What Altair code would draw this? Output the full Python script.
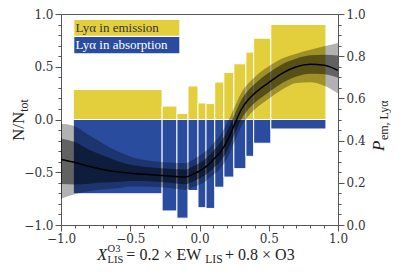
import altair as alt
import pandas as pd

# ---------------- data ----------------
bin_lo = [-0.911, -0.270, -0.163, -0.083, -0.011, 0.047, 0.110, 0.176, 0.248, 0.335, 0.391, 0.515]
bin_hi = [-0.270, -0.163, -0.083, -0.011, 0.047, 0.110, 0.176, 0.248, 0.335, 0.391, 0.515, 0.913]
frac_emission = [0.284, 0.127, 0.058, 0.318, 0.157, 0.151, 0.355, 0.447, 0.528, 0.639, 0.771, 0.901]
frac_absorption = [-0.704, -0.867, -0.935, -0.673, -0.836, -0.843, -0.642, -0.546, -0.466, -0.349, -0.225, -0.090]

curve_x = [-1.0, -0.9, -0.8, -0.7, -0.6, -0.5, -0.4, -0.3, -0.2, -0.1, -0.05, 0.0, 0.05,
           0.1, 0.15, 0.2, 0.25, 0.3, 0.35, 0.4, 0.5, 0.6, 0.7, 0.8, 0.9, 1.0]
p_mid = [0.310, 0.296, 0.278, 0.263, 0.252, 0.245, 0.240, 0.236, 0.231, 0.227, 0.240, 0.256, 0.278,
         0.310, 0.345, 0.398, 0.472, 0.545, 0.592, 0.625, 0.675, 0.720, 0.750, 0.762, 0.757, 0.733]
p_out_lo = [0.125, 0.146, 0.160, 0.168, 0.174, 0.183, 0.182, 0.180, 0.174, 0.167, 0.178, 0.191, 0.210,
            0.238, 0.267, 0.316, 0.390, 0.465, 0.514, 0.548, 0.598, 0.643, 0.673, 0.677, 0.660, 0.623]
p_in_lo = [0.194, 0.192, 0.196, 0.201, 0.204, 0.209, 0.208, 0.205, 0.199, 0.193, 0.205, 0.220, 0.240,
           0.270, 0.301, 0.351, 0.425, 0.499, 0.546, 0.579, 0.629, 0.674, 0.704, 0.717, 0.715, 0.698]
p_in_hi = [0.410, 0.393, 0.358, 0.330, 0.304, 0.285, 0.276, 0.270, 0.265, 0.263, 0.277, 0.294, 0.318,
           0.352, 0.391, 0.446, 0.519, 0.590, 0.636, 0.669, 0.721, 0.763, 0.789, 0.804, 0.807, 0.803]
p_out_hi = [0.480, 0.468, 0.426, 0.388, 0.352, 0.325, 0.308, 0.300, 0.295, 0.293, 0.308, 0.328, 0.353,
            0.388, 0.427, 0.483, 0.555, 0.625, 0.669, 0.702, 0.752, 0.790, 0.812, 0.830, 0.847, 0.863]

x_major = [-1.0, -0.5, 0.0, 0.5, 1.0]
x_minor = [-1.0, -0.9, -0.8, -0.7, -0.6, -0.5, -0.4, -0.3, -0.2, -0.1, 0.0,
           0.1, 0.2, 0.3, 0.4, 0.5, 0.6, 0.7, 0.8, 0.9, 1.0]
n_major = [-1.0, -0.5, 0.0, 0.5, 1.0]
n_minor = x_minor
p_major = [0.0, 0.2, 0.4, 0.6, 0.8, 1.0]
p_minor = [0.0, 0.05, 0.1, 0.15, 0.2, 0.25, 0.3, 0.35, 0.4, 0.45, 0.5, 0.55, 0.6, 0.65,
           0.7, 0.75, 0.8, 0.85, 0.9, 0.95, 1.0]

legend_labels = ["Lyα in emission", "Lyα in absorption"]
xlabel_parts = ["X", "O3", "LIS", " = 0.2 × EW", "LIS", " + 0.8 × O3"]
ylabel_left_parts = ["N/N", "tot"]
ylabel_right_parts = ["P", "em, Lyα"]

# ---------------- styling ----------------
W, H = 277, 211
YELLOW = "#E3CE3B"
BLUE = "#2A4C9E"
AXC = "#555555"
TXT = "#222222"
SERIF = "Liberation Serif"
TICKFONT = "DejaVu Serif"

# Times / Liberation Serif advance widths (em)
TW = {' ': .25, '=': .564, '.': .25, '×': .564, '+': .564, 'E': .611, 'W': .944, 'O': .722,
      'L': .611, 'I': .333, 'S': .556, 'N': .722, '/': .278, 't': .278, 'o': .5, 'e': .444,
      'm': .778, ',': .25, 'y': .5, 'α': .55, 'X': .611, 'P': .611}


def tw(s, size):
    return sum(TW.get(c, .5) for c in s) * size


bars = pd.DataFrame(dict(x0=bin_lo, x1=bin_hi, em=frac_emission, ab=frac_absorption))
curve = pd.DataFrame(dict(x=curve_x, mid=p_mid, olo=p_out_lo, ilo=p_in_lo, ihi=p_in_hi, ohi=p_out_hi))

xscale = alt.Scale(domain=[-1, 1], nice=False, zero=False)
nscale = alt.Scale(domain=[-1, 1], nice=False, zero=False)
pscale = alt.Scale(domain=[0, 1], nice=False, zero=False)


def major_axis(orient, values):
    return alt.Axis(orient=orient, values=values, format=".1f", tickSize=6, title=None,
                    grid=False, labelFlush=False, labelOverlap=False, labelPadding=2,
                    labelFont=TICKFONT, labelFontSize=12, labelColor="#333333",
                    tickColor=AXC, domainColor=AXC)


def minor_axis(orient, values):
    return alt.Axis(orient=orient, values=values, labels=False, tickSize=3, title=None,
                    grid=False, domain=False, tickColor=AXC)


emis = alt.Chart(bars).mark_rect(color=YELLOW, stroke="white", strokeWidth=1).encode(
    x=alt.X("x0:Q", scale=xscale, axis=major_axis("bottom", x_major)),
    x2="x1:Q",
    y=alt.Y("em:Q", scale=nscale, axis=major_axis("left", n_major)),
    y2=alt.datum(0),
)
absn = alt.Chart(bars).mark_rect(color=BLUE, stroke="white", strokeWidth=1).encode(
    x=alt.X("x0:Q", scale=xscale, axis=minor_axis("bottom", x_minor)),
    x2="x1:Q",
    y=alt.Y("ab:Q", scale=nscale, axis=minor_axis("left", n_minor)),
    y2=alt.datum(0),
)
outer = alt.Chart(curve).mark_area(color="black", opacity=0.3, interpolate="monotone").encode(
    x=alt.X("x:Q", scale=xscale, axis=None),
    y=alt.Y("olo:Q", scale=pscale, axis=major_axis("right", p_major)),
    y2="ohi:Q",
)
inner = alt.Chart(curve).mark_area(color="black", opacity=0.45, interpolate="monotone").encode(
    x=alt.X("x:Q", scale=xscale, axis=None),
    y=alt.Y("ilo:Q", scale=pscale, axis=minor_axis("right", p_minor)),
    y2="ihi:Q",
)
line = alt.Chart(curve).mark_line(color="black", strokeWidth=1.5, interpolate="monotone").encode(
    x=alt.X("x:Q", scale=xscale, axis=None),
    y=alt.Y("mid:Q", scale=pscale, axis=None),
)


def txt(s, x, y, size, color=TXT, italic=False, angle=0, font=SERIF):
    kw = dict(x=x, y=y, fontSize=size, color=color, font=font, align="left",
              baseline="alphabetic")
    if italic:
        kw["fontStyle"] = "italic"
    if angle:
        kw["angle"] = angle
    return alt.Chart(pd.DataFrame({"t": [s]})).mark_text(**kw).encode(text="t:N")


def box(x, x2, y, y2, color):
    return alt.Chart(pd.DataFrame({"k": [0]})).mark_rect(
        color=color, x=x, x2=x2, y=y, y2=y2)


layers = [emis, absn, outer, inner, line]

# legend
layers += [box(13.3, 118.3, 6, 21.7, YELLOW), box(13.3, 118.3, 23, 39.3, BLUE),
           txt(legend_labels[0], 14.5, 18, 13, color="#333333"),
           txt(legend_labels[1], 14.5, 34.5, 13, color="#ffffff")]

# x label: X^{O3}_{LIS} = 0.2 x EW_{LIS} + 0.8 x O3
BIG, SMALL, TINY = 16, 11.5, 10.5
GAP = 2.5
w_parts = [tw(xlabel_parts[0], BIG),
           max(tw(xlabel_parts[1], TINY), tw(xlabel_parts[2], TINY)) + GAP + 1,
           tw(xlabel_parts[3], BIG), tw(xlabel_parts[4], SMALL) + GAP, tw(xlabel_parts[5], BIG)]
x0 = 137.0 - sum(w_parts) / 2
base = 246
layers.append(txt(xlabel_parts[0], x0, base, BIG, italic=True))
xs = x0 + w_parts[0] + 0.5
layers.append(txt(xlabel_parts[1], xs, base - 8, TINY))
layers.append(txt(xlabel_parts[2], xs, base + 3, TINY))
xs = x0 + w_parts[0] + w_parts[1]
layers.append(txt(xlabel_parts[3], xs, base, BIG))
xs += w_parts[2]
layers.append(txt(xlabel_parts[4], xs, base + 3, SMALL))
xs += w_parts[3]
layers.append(txt(xlabel_parts[5], xs, base, BIG))

# left y label: N/N_tot (rotated)
LB, LS = 17, 12
ystart = 127
layers.append(txt(ylabel_left_parts[0], -37, ystart, LB, angle=270))
layers.append(txt(ylabel_left_parts[1], -33.5, ystart - tw(ylabel_left_parts[0], LB), LS, angle=270))

# right y label: P_{em, Lya} (rotated)
ystart = 137
layers.append(txt(ylabel_right_parts[0], 323, ystart, LB, italic=True, angle=270))
layers.append(txt(ylabel_right_parts[1], 326.5, ystart - tw(ylabel_right_parts[0], LB) - 0.5, LS, angle=270))

chart = alt.layer(*layers).resolve_scale(y="independent").resolve_axis(x="independent").properties(
    width=W, height=H,
    padding={"left": 53, "top": 6, "right": 53, "bottom": 41},
    autosize=alt.AutoSizeParams(type="none"),
).configure_view(stroke=AXC, strokeWidth=1).configure_axis(
    labelFont=TICKFONT, labelFontSize=12, labelColor="#333333",
    tickColor=AXC, domainColor=AXC, tickWidth=1, domainWidth=1,
)

chart.save("out.html", embed_options={"renderer": "svg", "actions": False})
